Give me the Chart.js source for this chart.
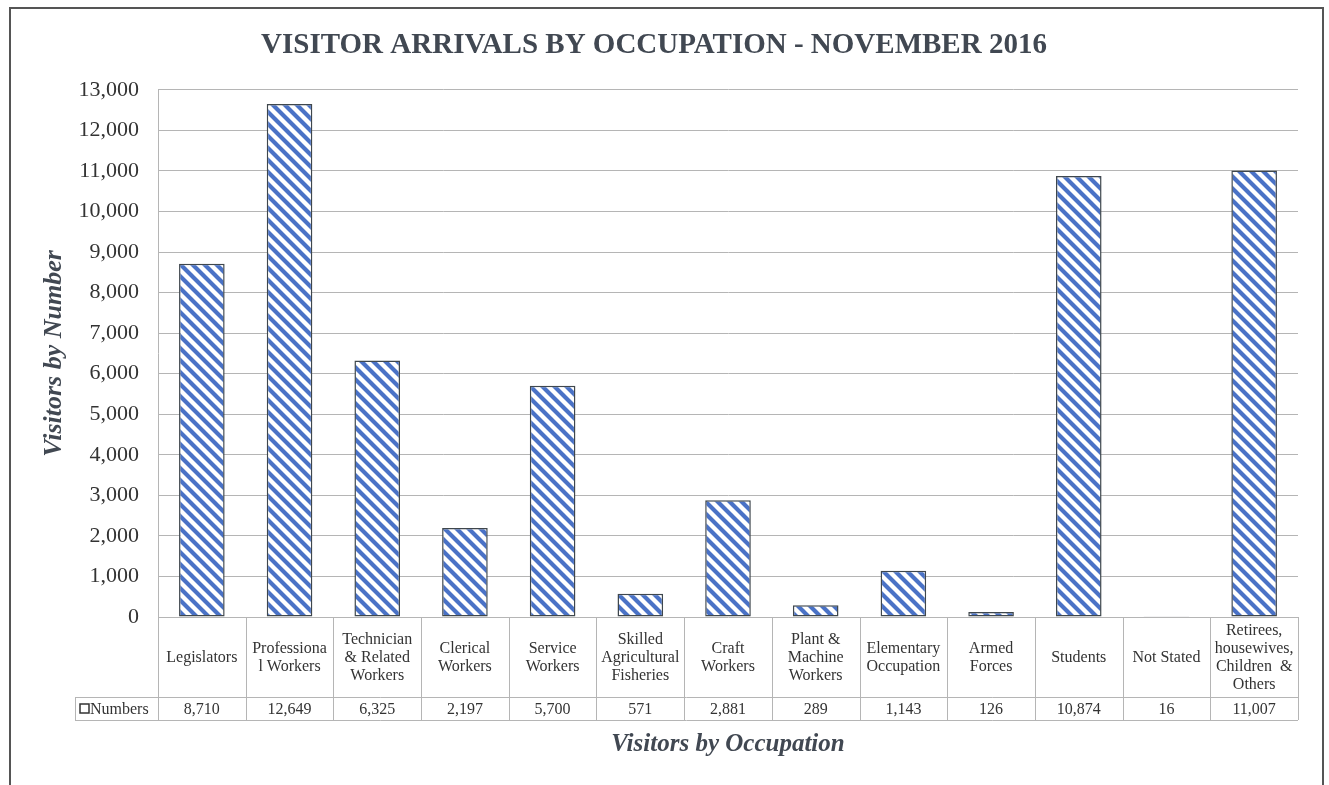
<!DOCTYPE html>
<html>
<head>
<meta charset="utf-8">
<script src="https://cdn.jsdelivr.net/npm/chart.js@4/dist/chart.umd.min.js"></script>
<style>
    html, body { margin: 0; padding: 0; background: #fff; }
    #wrap { width: 1329px; height: 785px; position: relative; }
</style>
</head>
<body>
<div id="wrap"><canvas id="occChart" width="1329" height="785"></canvas></div>
<script>
// Data
const categories = [
    ['Legislators'],
    ['Professiona', 'l Workers'],
    ['Technician', '& Related', 'Workers'],
    ['Clerical', 'Workers'],
    ['Service', 'Workers'],
    ['Skilled', 'Agricultural', 'Fisheries'],
    ['Craft', 'Workers'],
    ['Plant &', 'Machine', 'Workers'],
    ['Elementary', 'Occupation'],
    ['Armed', 'Forces'],
    ['Students'],
    ['Not Stated'],
    ['Retirees,', 'housewives,', 'Children  &', 'Others']
];
const numbers = [8710, 12649, 6325, 2197, 5700, 571, 2881, 289, 1143, 126, 10874, 16, 11007];
const seriesName = 'Numbers';

const serif = '"Liberation Serif", "Times New Roman", serif';
const textColor = '#333';
const titleColor = '#414852';
const lineColor = '#b5b5b5';

// diagonal stripe fill
function makeStripes() {
    const size = 12;
    const c = document.createElement('canvas');
    c.width = size;
    c.height = size;
    const g = c.getContext('2d');
    g.fillStyle = '#fff';
    g.fillRect(0, 0, size, size);
    g.strokeStyle = '#4a72c6';
    g.lineWidth = 4.2;
    g.beginPath();
    for (let k = -1; k <= 1; k++) {
        // run past the tile edges so the ends don't leave gaps
        g.moveTo(k * size - 4, -4);
        g.lineTo(k * size + size + 4, size + 4);
    }
    g.stroke();
    return g.createPattern(c, 'repeat');
}

// frame + data table under the plot
const tablePlugin = {
    id: 'dataTable',
    afterDraw(chart) {
        const ctx = chart.ctx;
        const x = chart.scales.x;
        const area = chart.chartArea;
        const n = categories.length;
        const w = (area.right - area.left) / n;
        const top = area.bottom;
        const mid = top + 80;
        const bot = mid + 23;
        const legLeft = 75;

        ctx.save();
        ctx.strokeStyle = lineColor;
        ctx.lineWidth = 1;
        ctx.beginPath();
        for (let i = 0; i <= n; i++) {
            const px = Math.round(area.left + i * w) + 0.5;
            ctx.moveTo(px, top);
            ctx.lineTo(px, bot);
        }
        ctx.moveTo(legLeft + 0.5, mid);
        ctx.lineTo(legLeft + 0.5, bot);
        ctx.moveTo(legLeft, mid + 0.5);
        ctx.lineTo(area.right, mid + 0.5);
        ctx.moveTo(legLeft, bot + 0.5);
        ctx.lineTo(area.right, bot + 0.5);
        ctx.stroke();

        ctx.fillStyle = textColor;
        ctx.font = '16px ' + serif;
        ctx.textAlign = 'center';
        ctx.textBaseline = 'middle';
        const lh = 18;
        categories.forEach((lines, i) => {
            const cx = x.getPixelForValue(i);
            const y0 = (top + mid) / 2 - (lines.length - 1) * lh / 2 + 1;
            lines.forEach((t, j) => ctx.fillText(t, cx, y0 + j * lh));
            ctx.fillText(numbers[i].toLocaleString('en-US'), cx, (mid + bot) / 2 + 1);
        });

        // legend key
        ctx.strokeStyle = '#333';
        ctx.lineWidth = 1.5;
        ctx.strokeRect(80, mid + 7, 9, 9);
        ctx.textAlign = 'left';
        ctx.fillText(seriesName, 90, (mid + bot) / 2 + 1);

        // x axis title
        ctx.font = 'bold italic 25px ' + serif;
        ctx.fillStyle = titleColor;
        ctx.textAlign = 'center';
        ctx.fillText('Visitors by Occupation', (area.left + area.right) / 2, 745);

        // outer frame
        ctx.strokeStyle = '#555';
        ctx.lineWidth = 2;
        ctx.strokeRect(10, 8, 1313, 800);
        ctx.restore();
    }
};

const ctx = document.getElementById('occChart').getContext('2d');
const occChart = new Chart(ctx, {
    type: 'bar',
    data: {
        labels: categories.map(c => c.join(' ')),
        datasets: [{
            label: seriesName,
            data: numbers,
            backgroundColor: makeStripes(),
            borderColor: '#3f474d',
            borderWidth: 1.5,
            borderSkipped: false,
            categoryPercentage: 1,
            barPercentage: 0.52
        }]
    },
    options: {
        responsive: false,
        animation: false,
        layout: {
            padding: { left: 10, right: 31, bottom: 168 }
        },
        plugins: {
            legend: { display: false },
            tooltip: { enabled: false },
            title: {
                display: true,
                text: 'VISITOR ARRIVALS BY OCCUPATION - NOVEMBER 2016',
                color: titleColor,
                font: { family: serif, size: 29, weight: 'bold' },
                padding: { top: 28, bottom: 27 }
            }
        },
        scales: {
            x: {
                display: false
            },
            y: {
                min: 0,
                max: 13000,
                afterFit: scale => { scale.width = 148; },
                ticks: {
                    stepSize: 1000,
                    padding: 19,
                    color: textColor,
                    font: { family: serif, size: 22 },
                    callback: value => value.toLocaleString('en-US')
                },
                grid: {
                    color: lineColor,
                    drawTicks: false
                },
                border: {
                    color: lineColor
                },
                title: {
                    display: true,
                    text: 'Visitors by Number',
                    color: titleColor,
                    font: { family: serif, size: 26, weight: 'bold', style: 'italic' },
                    padding: { top: 29, bottom: 0 }
                }
            }
        }
    },
    plugins: [tablePlugin]
});
</script>
</body>
</html>
